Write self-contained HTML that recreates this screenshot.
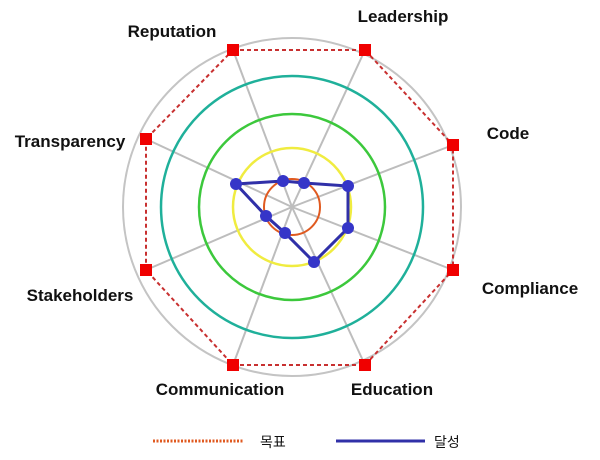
<!DOCTYPE html>
<html><head><meta charset="utf-8"><style>
html,body{margin:0;padding:0;background:#fff;}
svg{display:block;}
text{font-family:"Liberation Sans","Noto Sans CJK KR",sans-serif;font-weight:bold;font-size:17px;fill:#111;}
</style></head><body>
<svg width="600" height="460" viewBox="0 0 600 460">
<g stroke="#bdbdbd" stroke-width="2">
<line x1="292" y1="207" x2="233" y2="50"/>
<line x1="292" y1="207" x2="365" y2="50"/>
<line x1="292" y1="207" x2="453" y2="145"/>
<line x1="292" y1="207" x2="453" y2="270"/>
<line x1="292" y1="207" x2="365" y2="365"/>
<line x1="292" y1="207" x2="233" y2="365"/>
<line x1="292" y1="207" x2="146" y2="270"/>
<line x1="292" y1="207" x2="146" y2="139"/>
</g>
<circle cx="292" cy="207" r="169" fill="none" stroke="#c4c4c4" stroke-width="2"/>
<circle cx="292" cy="207" r="131" fill="none" stroke="#1fb09a" stroke-width="2.5"/>
<circle cx="292" cy="207" r="93" fill="none" stroke="#3cc83c" stroke-width="2.5"/>
<circle cx="292" cy="207" r="59" fill="none" stroke="#f0ec40" stroke-width="2.5"/>
<circle cx="292" cy="207" r="28" fill="none" stroke="#e05a20" stroke-width="2"/>
<polygon points="233,50 365,50 453,145 453,270 365,365 233,365 146,270 146,139" fill="none" stroke="#c83030" stroke-width="2" stroke-dasharray="4,3"/>
<g fill="#f00000">
<rect x="227" y="44" width="12" height="12"/><rect x="359" y="44" width="12" height="12"/>
<rect x="447" y="139" width="12" height="12"/><rect x="447" y="264" width="12" height="12"/>
<rect x="359" y="359" width="12" height="12"/><rect x="227" y="359" width="12" height="12"/>
<rect x="140" y="264" width="12" height="12"/><rect x="140" y="133" width="12" height="12"/>
</g>
<polygon points="236,184 283,181 304,183 348,186 348,228 314,262 285,233 266,216" fill="none" stroke="#3030a8" stroke-width="3"/>
<g fill="#3535c8">
<circle cx="236" cy="184" r="6"/><circle cx="283" cy="181" r="6"/><circle cx="304" cy="183" r="6"/>
<circle cx="348" cy="186" r="6"/><circle cx="348" cy="228" r="6"/><circle cx="314" cy="262" r="6"/>
<circle cx="285" cy="233" r="6"/><circle cx="266" cy="216" r="6"/>
</g>
<text x="172" y="37" text-anchor="middle">Reputation</text>
<text x="403" y="22" text-anchor="middle">Leadership</text>
<text x="508" y="139" text-anchor="middle">Code</text>
<text x="530" y="294" text-anchor="middle">Compliance</text>
<text x="392" y="395" text-anchor="middle">Education</text>
<text x="220" y="395" text-anchor="middle">Communication</text>
<text x="80" y="301" text-anchor="middle">Stakeholders</text>
<text x="70" y="147" text-anchor="middle">Transparency</text>
<line x1="153" y1="441" x2="243" y2="441" stroke="#e05a20" stroke-width="3" stroke-dasharray="2,1.5"/>
<text x="260" y="447" style="font-weight:normal;font-size:14px">목표</text>
<line x1="336" y1="441" x2="425" y2="441" stroke="#3030a8" stroke-width="3"/>
<text x="434" y="447" style="font-weight:normal;font-size:14px">달성</text>
</svg>
</body></html>
